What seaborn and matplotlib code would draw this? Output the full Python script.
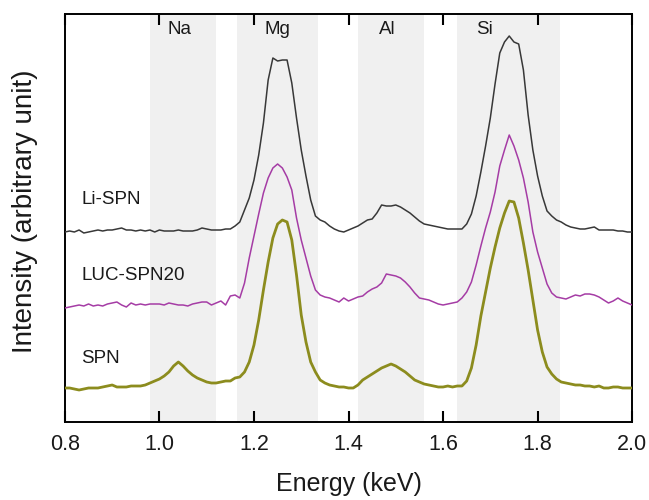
import numpy as np
import pandas as pd
import matplotlib
matplotlib.use("Agg")
import matplotlib.pyplot as plt
import seaborn as sns

# ---------------------------------------------------------------------------
# Data (arbitrary intensity units, curves pre-offset)
# ---------------------------------------------------------------------------
energy = np.linspace(0.80, 2.00, 121)  # keV channels, 0.01 keV step

li_spn = [
    188, 189, 188, 190, 187, 188, 189, 190, 189, 190,
    190, 191, 192, 190, 190, 189, 190, 189, 190, 188,
    190, 189, 189, 189, 190, 189, 189, 189, 190, 192,
    191, 190, 190, 190, 191, 191, 194, 198, 210, 222,
    240, 265, 297, 340, 362, 359, 360, 360, 337, 302,
    270, 244, 220, 204, 200, 198, 194, 191, 189, 188,
    190, 192, 194, 197, 200, 201, 207, 215, 214, 214,
    215, 213, 210, 207, 203, 199, 196, 195, 194, 193,
    192, 191, 191, 191, 191, 196, 206, 224, 248, 274,
    302, 336, 367, 378, 384, 378, 376, 350, 305, 270,
    244, 224, 209, 204, 200, 198, 195, 193, 192, 191,
    191, 192, 193, 190, 190, 190, 190, 189, 189, 188, 188,
]

luc_spn20 = [
    112, 113, 114, 115, 114, 116, 114, 115, 114, 116,
    117, 118, 115, 113, 117, 115, 116, 115, 116, 116,
    116, 115, 117, 116, 115, 115, 114, 116, 117, 118,
    118, 115, 117, 119, 115, 124, 125, 122, 137, 162,
    184, 206, 227, 242, 252, 256, 252, 243, 230, 202,
    180, 162, 144, 130, 125, 123, 122, 120, 118, 122,
    119, 121, 123, 124, 128, 131, 133, 137, 146, 145,
    144, 142, 138, 133, 127, 122, 121, 120, 118, 116,
    115, 116, 117, 118, 122, 128, 138, 155, 174, 192,
    208, 228, 254, 270, 285, 274, 260, 242, 218, 188,
    168, 152, 136, 127, 123, 122, 121, 123, 125, 124,
    126, 126, 125, 123, 120, 117, 119, 122, 119, 117, 115,
]

spn = [
    32, 32, 31, 30, 31, 32, 32, 32, 33, 34,
    35, 33, 33, 33, 34, 34, 34, 35, 37, 39,
    41, 44, 48, 54, 58, 54, 49, 45, 42, 40,
    38, 37, 37, 38, 39, 39, 42, 43, 48, 58,
    75, 100, 130, 158, 182, 196, 200, 198, 180, 145,
    105, 78, 58, 48, 40, 37, 35, 34, 33, 33,
    32, 32, 35, 40, 43, 46, 49, 52, 54, 56,
    54, 51, 48, 44, 40, 38, 36, 35, 34, 33,
    33, 34, 33, 34, 34, 39, 52, 75, 104, 128,
    152, 173, 192, 207, 219, 218, 202, 177, 150, 120,
    90, 68, 53, 46, 41, 38, 37, 36, 35, 35,
    34, 34, 33, 34, 32, 32, 33, 33, 32, 32, 32,
]

series_names = ["Li-SPN", "LUC-SPN20", "SPN"]
series_colors = ["#383838", "#a53ca5", "#8c8c1e"]
series_widths = [1.1, 1.1, 2.0]
label_y = [221, 144, 61.5]

# element windows (keV) and labels
elements = ["Na", "Mg", "Al", "Si"]
band_lo = [0.98, 1.165, 1.42, 1.63]
band_hi = [1.12, 1.335, 1.56, 1.848]
element_x = [1.043, 1.249, 1.481, 1.687]

xticks = [0.8, 1.0, 1.2, 1.4, 1.6, 1.8, 2.0]

# ---------------------------------------------------------------------------
# Plot
# ---------------------------------------------------------------------------
sns.set_style("ticks", {"xtick.direction": "in"})
plt.rcParams["font.family"] = ["Liberation Sans", "DejaVu Sans"]

df = pd.DataFrame({"Energy": np.tile(energy, 3),
                   "Intensity": li_spn + luc_spn20 + spn,
                   "Sample": np.repeat(series_names, len(energy))})

fig = plt.figure(figsize=(6.49, 5.0), dpi=100)
ax = fig.add_axes([0.100, 0.156, 0.874, 0.816])

for lo, hi in zip(band_lo, band_hi):
    ax.axvspan(lo, hi, color="#f0f0f0", lw=0, zorder=0)

for name, col, lw in zip(series_names, series_colors, series_widths):
    sns.lineplot(data=df[df["Sample"] == name], x="Energy", y="Intensity",
                 color=col, lw=lw, ax=ax, legend=False, zorder=3)

for el, xe in zip(elements, element_x):
    ax.text(xe, 390, el, ha="center", va="center", fontsize=13.5,
            color="#1a1a1a")

for name, yl in zip(series_names, label_y):
    ax.text(0.835, yl, name, ha="left", va="center", fontsize=13.5,
            color="#1a1a1a")

ax.set_xlim(0.8, 2.0)
ax.set_ylim(-2, 406)
ax.set_xticks(xticks)
ax.set_xticklabels([f"{t:.1f}" for t in xticks])
ax.set_yticks([])
for sp in ax.spines.values():
    sp.set_color("black")
    sp.set_linewidth(1.4)

ax.set_xlabel("Energy (keV)", fontsize=18, labelpad=12, color="#1a1a1a")
ax.set_ylabel("Intensity (arbitrary unit)", fontsize=20, color="#1a1a1a")
ax.yaxis.set_label_coords(-0.047, 0.517)

ax.tick_params(axis="x", direction="in", top=True, bottom=True,
               length=8, width=1.5, color="black",
               labelsize=15.5, pad=9, labelcolor="#1a1a1a")

fig.savefig("out.png", dpi=100)
